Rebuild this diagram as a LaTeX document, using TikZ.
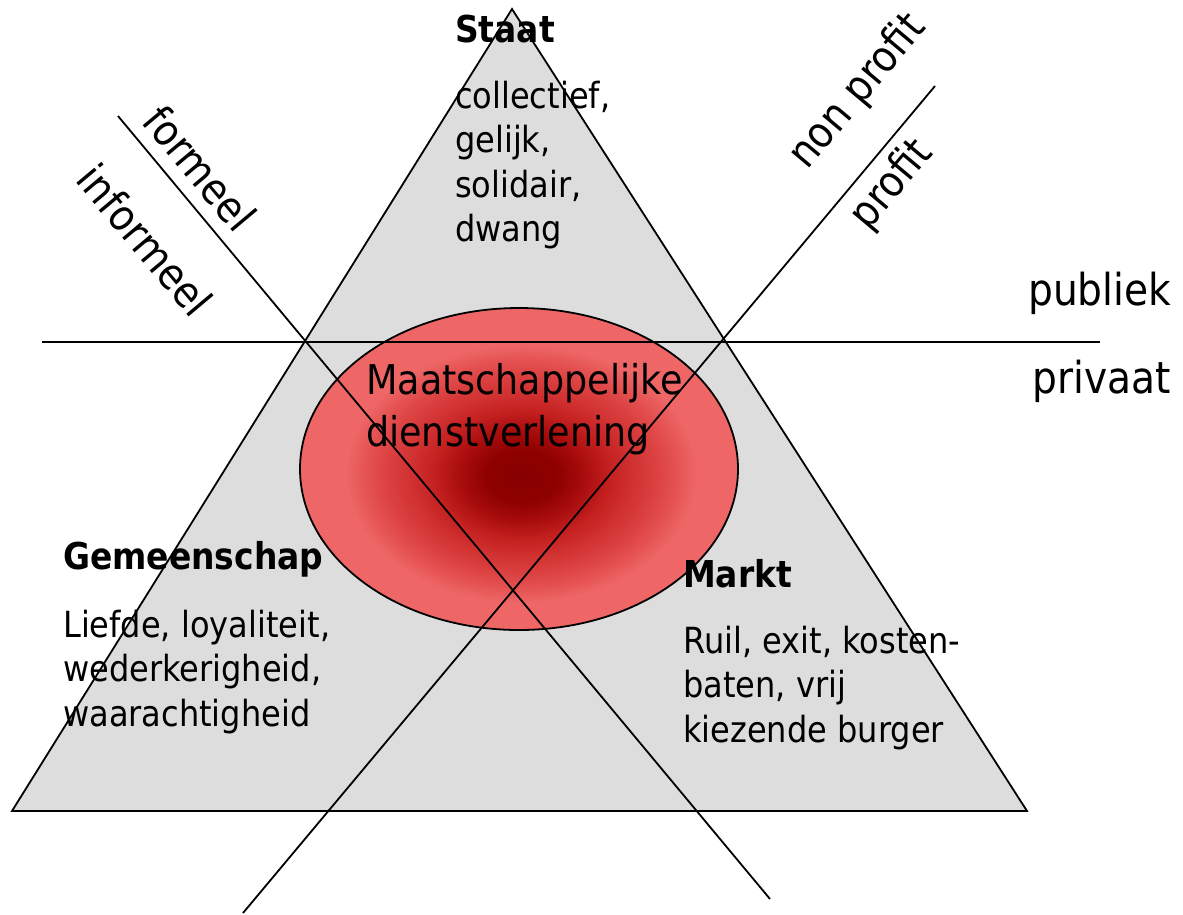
\documentclass[tikz,border=0pt]{standalone}
\usepackage{fontspec}
\setmainfont{DejaVu Sans}[FakeStretch=0.89]
\definecolor{trigray}{HTML}{DDDDDD}
\definecolor{gA}{HTML}{880000}
\definecolor{gB}{HTML}{8E0000}
\definecolor{gC}{HTML}{A80C0C}
\definecolor{gD}{HTML}{C42020}
\definecolor{gE}{HTML}{D03030}
\definecolor{gF}{HTML}{DA3E3E}
\definecolor{gG}{HTML}{E45050}
\definecolor{gH}{HTML}{EE6666}
\pgfdeclareradialshading{glow}{\pgfpoint{0.4bp}{-1.2bp}}{%
  color(0bp)=(gA); color(4bp)=(gB); color(7bp)=(gC); color(10bp)=(gD);
  color(12.5bp)=(gE); color(15bp)=(gF); color(17.5bp)=(gG);
  color(20bp)=(gH); color(50bp)=(gH)}
\newcommand{\blocklines}[1]{\begin{tabular}[t]{@{}l@{}}#1\end{tabular}}
\tikzset{
  thinline/.style={line width=1.8pt, black},
  body/.style={font=\fontsize{36}{44.5}\selectfont, anchor=base west, inner sep=0pt},
  head/.style={font=\fontsize{37}{44}\selectfont\bfseries, anchor=base west, inner sep=0pt},
  big/.style={font=\fontsize{41}{52}\selectfont, anchor=base west, inner sep=0pt},
  side/.style={font=\fontsize{44}{50}\selectfont, anchor=base west, inner sep=0pt},
  slant/.style={font=\fontsize{43}{50}\selectfont, inner sep=0pt}
}
\begin{document}
\begin{tikzpicture}[x=1pt,y=-1pt]
\useasboundingbox (0,0) rectangle (1183,914);
% triangle
\coordinate (tl) at (12,811);
\coordinate (tr) at (1027,811);
\coordinate (tt) at (512,9);
\fill[trigray] (tl) -- (tr) -- (tt) -- cycle;
% ellipse
\coordinate (ec) at (519,469);
\shade[shading=glow] (ec) ellipse [x radius=219, y radius=161];
\draw[line width=1.8pt] (ec) ellipse [x radius=219, y radius=161];
\draw[thinline] (tl) -- (tr) -- (tt) -- cycle;
% dividing lines
\coordinate (h1) at (42,342);
\coordinate (h2) at (1100,342);
\coordinate (f1) at (118,116);
\coordinate (f2) at (770,899);
\coordinate (p1) at (935,86);
\coordinate (p2) at (243,913);
\draw[thinline] (h1) -- (h2);
\draw[thinline] (f1) -- (f2);
\draw[thinline] (p1) -- (p2);
% texts
\node[head] (staat) at (455,42) {Staat};
\node[body] (staatb) at (455,108) {\blocklines{collectief,\\gelijk,\\solidair,\\dwang}};
\node[head] (gem) at (63,569) {Gemeenschap};
\node[body] (gemb) at (63,637) {\blocklines{Liefde, loyaliteit,\\wederkerigheid,\\waarachtigheid}};
\node[head] (markt) at (683,587) {Markt};
\node[body] (marktb) at (683,653) {\blocklines{Ruil, exit, kosten-\\baten, vrij\\kiezende burger}};
\node[big] (mdv) at (366,394) {\blocklines{Maatschappelijke\\dienstverlening}};
\node[side] (pub) at (1028,305) {publiek};
\node[side] (priv) at (1032,393) {privaat};
\node[slant, rotate=-50] (form) at (200,168) {formeel};
\node[slant, rotate=-50] (inform) at (145,240) {informeel};
\node[slant, rotate=50] (nonp) at (858,92) {non profit};
\node[slant, rotate=50] (prof) at (892,185) {profit};
\end{tikzpicture}
\end{document}
